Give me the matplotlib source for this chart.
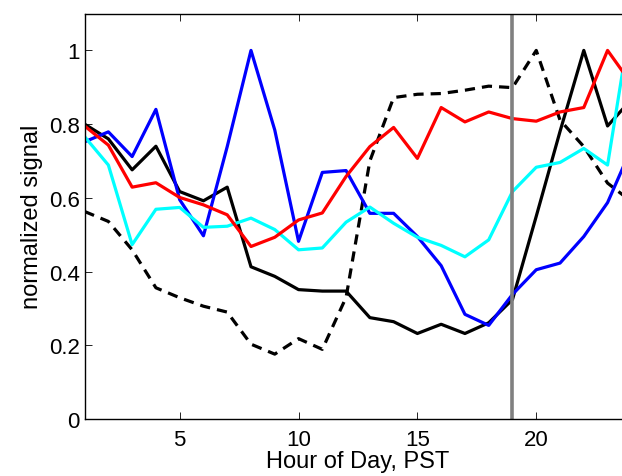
import matplotlib
matplotlib.use('Agg')
import matplotlib.pyplot as plt

plt.rcParams['font.family'] = ['Liberation Sans', 'DejaVu Sans']

hours = list(range(1, 25))

black_solid = [0.80, 0.76, 0.676, 0.74, 0.617, 0.592, 0.629, 0.413, 0.387, 0.351, 0.347, 0.347,
               0.275, 0.264, 0.232, 0.257, 0.232, 0.261, 0.324, 0.55, 0.78, 1.0, 0.795, 0.867]
black_dashed = [0.563, 0.536, 0.459, 0.356, 0.329, 0.306, 0.29, 0.203, 0.176, 0.218, 0.189, 0.33,
                0.70, 0.872, 0.881, 0.883, 0.892, 0.903, 0.899, 1.0, 0.811, 0.739, 0.64, 0.59]
red = [0.795, 0.743, 0.629, 0.641, 0.601, 0.581, 0.554, 0.468, 0.493, 0.54, 0.559, 0.658,
       0.739, 0.791, 0.707, 0.845, 0.806, 0.833, 0.815, 0.808, 0.833, 0.845, 1.0, 0.91]
blue = [0.752, 0.779, 0.712, 0.84, 0.595, 0.497, 0.739, 1.0, 0.784, 0.482, 0.669, 0.674,
        0.558, 0.558, 0.495, 0.416, 0.284, 0.254, 0.338, 0.405, 0.423, 0.495, 0.587, 0.734]
cyan = [0.766, 0.689, 0.473, 0.569, 0.574, 0.52, 0.523, 0.545, 0.514, 0.459, 0.464, 0.534,
        0.575, 0.531, 0.493, 0.471, 0.44, 0.486, 0.617, 0.683, 0.696, 0.734, 0.689, 1.09]

marker_hour = 19

fig = plt.figure(figsize=(6.22, 4.77), dpi=100)
ax = fig.add_axes([0.1360, 0.1195, 0.879, 0.85])

lw = 2.3
ax.plot(hours, black_dashed, color='black', linestyle=(0, (3.2, 2.2)), linewidth=lw)
ax.plot(hours, black_solid, color='black', linewidth=lw)
ax.plot(hours, blue, color='blue', linewidth=lw)
ax.plot(hours, cyan, color='cyan', linewidth=lw)
ax.plot(hours, red, color='red', linewidth=lw)
ax.axvline(marker_hour, color='gray', linewidth=2.6)

ax.set_xlim(1, 24)
ax.set_ylim(0, 1.1)
ax.set_xticks([5, 10, 15, 20])
ax.set_yticks([0, 0.2, 0.4, 0.6, 0.8, 1])
ax.set_yticklabels(['0', '0.2', '0.4', '0.6', '0.8', '1'])
ax.tick_params(direction='in', top=True, right=True, length=5, width=0.6,
               labelsize=16, colors='black')
ax.tick_params(axis='x', pad=7)
for s in ax.spines.values():
    s.set_linewidth(1.0)

ax.set_xlabel('Hour of Day, PST', fontsize=17, labelpad=0)
ax.set_ylabel('normalized signal', fontsize=17, labelpad=4)

fig.savefig('out.png', dpi=100)
